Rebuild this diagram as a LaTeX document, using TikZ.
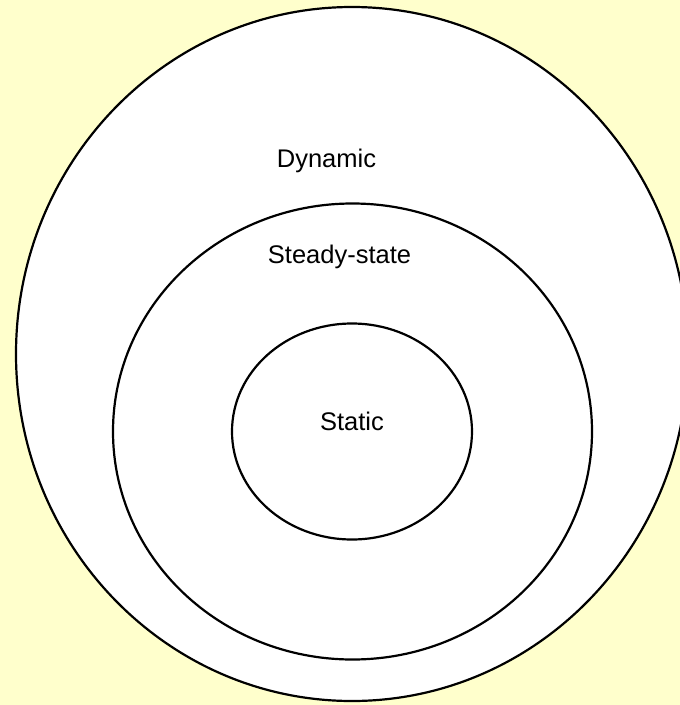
\documentclass[tikz,border=0pt]{standalone}
\usepackage{fontspec}
\setmainfont{Liberation Sans}
\definecolor{bgyellow}{HTML}{FFFFCC}
\begin{document}
\begin{tikzpicture}[x=1pt,y=-1pt,
  ring/.style={draw=black,line width=2.2pt,fill=white},
  lbl/.style={anchor=base,inner sep=0pt,font=\fontsize{25.5}{29}\selectfont}]
\fill[bgyellow] (0,0) rectangle (680,705);
\useasboundingbox (0,0) rectangle (680,705);
\begin{scope}
\clip (0,0) rectangle (680,705);
\draw[ring] (352,354) ellipse [x radius=336, y radius=347];
\end{scope}
\draw[ring] (352.5,431.5) ellipse [x radius=239.5, y radius=228];
\draw[ring] (352,431.5) ellipse [x radius=120, y radius=108];
\node[lbl] (dyn) at (326.5,167) {Dynamic};
\node[lbl] (ss) at (339.5,263) {Steady-state};
\node[lbl] (st) at (352,430) {Static};
\end{tikzpicture}
\end{document}
